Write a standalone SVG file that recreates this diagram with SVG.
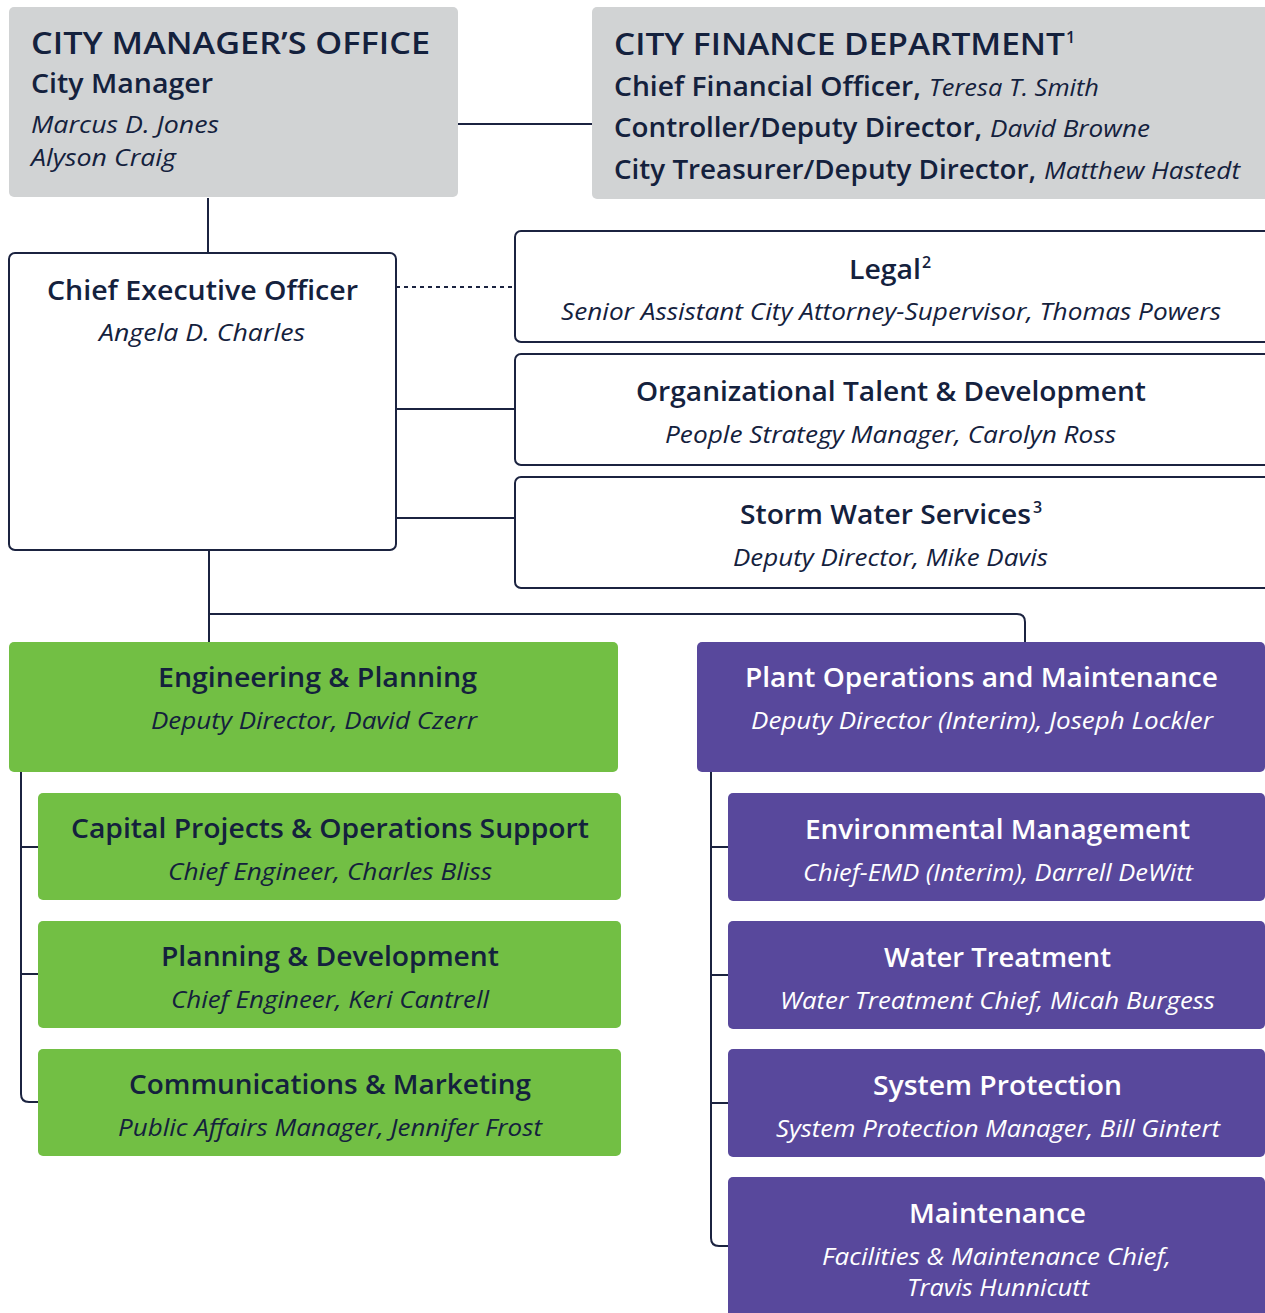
<svg xmlns="http://www.w3.org/2000/svg" width="1265" height="1313" viewBox="0 0 1265 1313">
  <style>
    .grey { fill: #d1d3d4; }
    .outline { fill: #ffffff; stroke: #1b2340; stroke-width: 2; }
    .green { fill: #72bf44; }
    .purple { fill: #58489c; }
    .link { fill: none; stroke: #1b2340; stroke-width: 2; }
    .dash { stroke-dasharray: 4 4; }
    text { font-family: "Open Sans", "Liberation Sans", sans-serif; fill: #14213d; }
    .cap { font-size: 30px; font-weight: 600; }
    .h { font-size: 27px; font-weight: 600; }
    .i { font-size: 23px; font-style: italic; font-weight: 400; }
    .c { text-anchor: middle; }
    .w { fill: #ffffff; }
    .sup { font-size: 16px; font-weight: 600; }
  </style>

  <!-- reporting lines -->
  <g id="connectors">
    <path class="link" d="M458,124 H592"/>
    <path class="link" d="M208,198 V253"/>
    <path class="link dash" d="M396,287 H515"/>
    <path class="link" d="M396,409 H515"/>
    <path class="link" d="M396,518 H515"/>
    <path class="link" d="M209,550 V642"/>
    <path class="link" d="M209,614 H1017 Q1025,614 1025,622 V642"/>
    <path class="link" d="M21,772 V1094 Q21,1102 29,1102 H38 M21,847 H38 M21,974 H38"/>
    <path class="link" d="M711,772 V1238 Q711,1246 719,1246 H728 M711,847 H728 M711,975 H728 M711,1103 H728"/>
  </g>

  <g id="city-manager">
    <rect class="grey" x="9" y="7" width="449" height="190" rx="5"/>
    <text class="cap" x="31" y="54" textLength="399" lengthAdjust="spacingAndGlyphs">CITY MANAGER’S OFFICE</text>
    <text class="h" x="31" y="93" textLength="182" lengthAdjust="spacingAndGlyphs">City Manager</text>
    <text class="i" x="31" y="133" textLength="188" lengthAdjust="spacingAndGlyphs">Marcus D. Jones</text>
    <text class="i" x="31" y="166" textLength="145" lengthAdjust="spacingAndGlyphs">Alyson Craig</text>
  </g>

  <g id="finance">
    <rect class="grey" x="592" y="7" width="680" height="192" rx="5"/>
    <text class="cap" x="614" y="55" textLength="451" lengthAdjust="spacingAndGlyphs">CITY FINANCE DEPARTMENT</text>
    <text class="sup" x="1066" y="43">1</text>
    <text class="h" x="614" y="96" textLength="307" lengthAdjust="spacingAndGlyphs">Chief Financial Officer,</text>
    <text class="i" x="929" y="96" textLength="170" lengthAdjust="spacingAndGlyphs">Teresa T. Smith</text>
    <text class="h" x="614" y="137" textLength="368" lengthAdjust="spacingAndGlyphs">Controller/Deputy Director,</text>
    <text class="i" x="990" y="137" textLength="160" lengthAdjust="spacingAndGlyphs">David Browne</text>
    <text class="h" x="614" y="179" textLength="422" lengthAdjust="spacingAndGlyphs">City Treasurer/Deputy Director,</text>
    <text class="i" x="1044" y="179" textLength="196" lengthAdjust="spacingAndGlyphs">Matthew Hastedt</text>
  </g>

  <g id="ceo">
    <rect class="outline" x="9" y="253" width="387" height="297" rx="6"/>
    <text class="h c" x="202.5" y="300" textLength="311" lengthAdjust="spacingAndGlyphs">Chief Executive Officer</text>
    <text class="i c" x="202" y="341" textLength="206" lengthAdjust="spacingAndGlyphs">Angela D. Charles</text>
  </g>

  <g id="legal">
    <rect class="outline" x="515" y="231" width="760" height="111" rx="6"/>
    <text class="h" x="849" y="279" textLength="72" lengthAdjust="spacingAndGlyphs">Legal</text>
    <text class="sup" x="922" y="268">2</text>
    <text class="i c" x="891" y="320" textLength="660" lengthAdjust="spacingAndGlyphs">Senior Assistant City Attorney-Supervisor, Thomas Powers</text>
  </g>

  <g id="talent">
    <rect class="outline" x="515" y="354" width="760" height="111" rx="6"/>
    <text class="h c" x="891" y="401" textLength="510" lengthAdjust="spacingAndGlyphs">Organizational Talent &amp; Development</text>
    <text class="i c" x="890.5" y="443" textLength="451" lengthAdjust="spacingAndGlyphs">People Strategy Manager, Carolyn Ross</text>
  </g>

  <g id="storm-water">
    <rect class="outline" x="515" y="477" width="760" height="111" rx="6"/>
    <text class="h" x="740" y="524" textLength="291" lengthAdjust="spacingAndGlyphs">Storm Water Services</text>
    <text class="sup" x="1033" y="513">3</text>
    <text class="i c" x="890.5" y="566" textLength="315" lengthAdjust="spacingAndGlyphs">Deputy Director, Mike Davis</text>
  </g>

  <g id="engineering">
    <rect class="green" x="9" y="642" width="609" height="130" rx="5"/>
    <text class="h c" x="317.5" y="687" textLength="319" lengthAdjust="spacingAndGlyphs">Engineering &amp; Planning</text>
    <text class="i c" x="314" y="729" textLength="326" lengthAdjust="spacingAndGlyphs">Deputy Director, David Czerr</text>
  </g>

  <g id="capital-projects">
    <rect class="green" x="38" y="793" width="583" height="107" rx="5"/>
    <text class="h c" x="330" y="838" textLength="518" lengthAdjust="spacingAndGlyphs">Capital Projects &amp; Operations Support</text>
    <text class="i c" x="330" y="880" textLength="324" lengthAdjust="spacingAndGlyphs">Chief Engineer, Charles Bliss</text>
  </g>

  <g id="planning">
    <rect class="green" x="38" y="921" width="583" height="107" rx="5"/>
    <text class="h c" x="330" y="966" textLength="338" lengthAdjust="spacingAndGlyphs">Planning &amp; Development</text>
    <text class="i c" x="330" y="1008" textLength="318" lengthAdjust="spacingAndGlyphs">Chief Engineer, Keri Cantrell</text>
  </g>

  <g id="communications">
    <rect class="green" x="38" y="1049" width="583" height="107" rx="5"/>
    <text class="h c" x="330" y="1094" textLength="402" lengthAdjust="spacingAndGlyphs">Communications &amp; Marketing</text>
    <text class="i c" x="330" y="1136" textLength="424" lengthAdjust="spacingAndGlyphs">Public Affairs Manager, Jennifer Frost</text>
  </g>

  <g id="plant-operations">
    <rect class="purple" x="697" y="642" width="568" height="130" rx="5"/>
    <text class="h c w" x="981.5" y="687" textLength="473" lengthAdjust="spacingAndGlyphs">Plant Operations and Maintenance</text>
    <text class="i c w" x="982" y="729" textLength="462" lengthAdjust="spacingAndGlyphs">Deputy Director (Interim), Joseph Lockler</text>
  </g>

  <g id="environmental">
    <rect class="purple" x="728" y="793" width="537" height="108" rx="5"/>
    <text class="h c w" x="997.5" y="839" textLength="385" lengthAdjust="spacingAndGlyphs">Environmental Management</text>
    <text class="i c w" x="998" y="881" textLength="390" lengthAdjust="spacingAndGlyphs">Chief-EMD (Interim), Darrell DeWitt</text>
  </g>

  <g id="water-treatment">
    <rect class="purple" x="728" y="921" width="537" height="108" rx="5"/>
    <text class="h c w" x="997.5" y="967" textLength="227" lengthAdjust="spacingAndGlyphs">Water Treatment</text>
    <text class="i c w" x="997.5" y="1009" textLength="435" lengthAdjust="spacingAndGlyphs">Water Treatment Chief, Micah Burgess</text>
  </g>

  <g id="system-protection">
    <rect class="purple" x="728" y="1049" width="537" height="108" rx="5"/>
    <text class="h c w" x="997.5" y="1095" textLength="249" lengthAdjust="spacingAndGlyphs">System Protection</text>
    <text class="i c w" x="998" y="1137" textLength="444" lengthAdjust="spacingAndGlyphs">System Protection Manager, Bill Gintert</text>
  </g>

  <g id="maintenance">
    <rect class="purple" x="728" y="1177" width="537" height="150" rx="5"/>
    <text class="h c w" x="997.5" y="1223" textLength="177" lengthAdjust="spacingAndGlyphs">Maintenance</text>
    <text class="i c w" x="996.5" y="1265" textLength="349" lengthAdjust="spacingAndGlyphs">Facilities &amp; Maintenance Chief,</text>
    <text class="i c w" x="998" y="1296" textLength="182" lengthAdjust="spacingAndGlyphs">Travis Hunnicutt</text>
  </g>
</svg>
